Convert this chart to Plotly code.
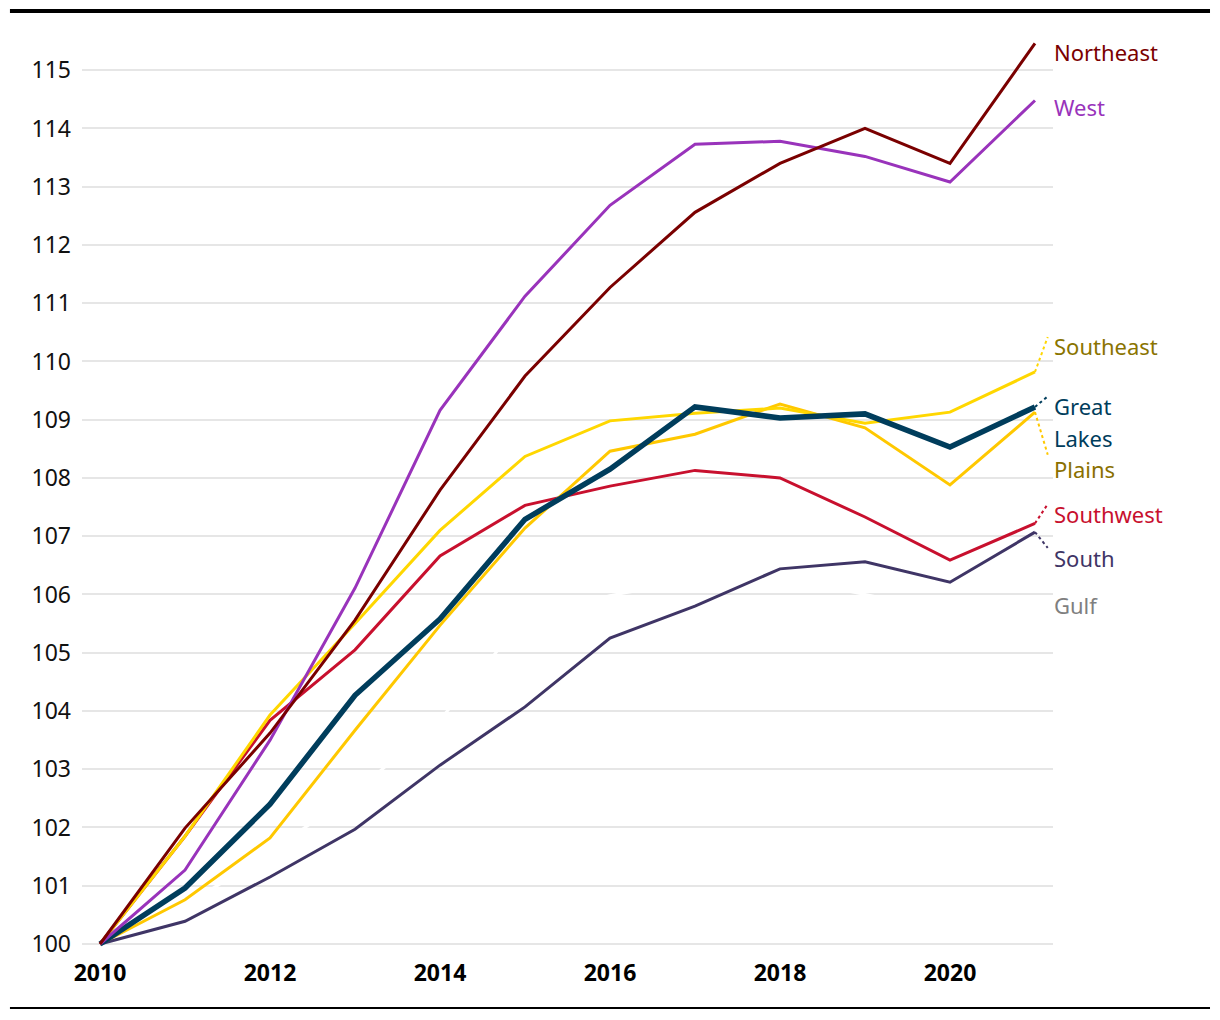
import plotly.graph_objects as go

years = list(range(2010, 2022))

northeast = [100, 101.99, 103.62, 105.56, 107.79, 109.75, 111.27, 112.56, 113.40, 114.00, 113.40, 115.46]
west = [100, 101.27, 103.50, 106.11, 109.16, 111.12, 112.68, 113.73, 113.78, 113.52, 113.08, 114.48]
southeast = [100, 101.85, 103.93, 105.50, 107.10, 108.37, 108.98, 109.11, 109.20, 108.94, 109.13, 109.82]
plains = [100, 100.76, 101.82, 103.67, 105.47, 107.14, 108.46, 108.75, 109.27, 108.86, 107.88, 109.13]
great_lakes = [100, 100.96, 102.40, 104.27, 105.58, 107.29, 108.15, 109.22, 109.03, 109.10, 108.53, 109.22]
southwest = [100, 101.85, 103.84, 105.05, 106.66, 107.53, 107.86, 108.13, 108.00, 107.33, 106.59, 107.22]
south = [100, 100.39, 101.15, 101.97, 103.07, 104.07, 105.25, 105.80, 106.44, 106.56, 106.21, 107.07]
gulf = [100, 100.65, 101.58, 102.60, 103.85, 105.60, 105.98, 106.25, 106.30, 106.00, 105.70, 105.90]

y_ticks = list(range(100, 116))
x_ticks = [2010, 2012, 2014, 2016, 2018, 2020]

FONT = "Noto Sans"

# name, values, line colour, label colour, width, label lines [(text, y)], leader end y (None = no leader)
series = [
    ("Gulf", gulf, "#ffffff", "#7f7f7f", 3, [("Gulf", 105.82)], None),
    ("South", south, "#3f3566", "#3f3566", 3, [("South", 106.62)], 106.80),
    ("Southwest", southwest, "#c8102e", "#c8102e", 3, [("Southwest", 107.38)], 107.55),
    ("Plains", plains, "#ffc800", "#8a7000", 3, [("Plains", 108.15)], 108.40),
    ("Southeast", southeast, "#ffd700", "#8a7400", 3, [("Southeast", 110.26)], 110.42),
    ("Great Lakes", great_lakes, "#003d5c", "#003d5c", 5.5,
     [("Great", 109.23), ("Lakes", 108.68)], 109.40),
    ("West", west, "#9933bb", "#9933bb", 3, [("West", 114.36)], None),
    ("Northeast", northeast, "#7a0000", "#7a0000", 3, [("Northeast", 115.32)], None),
]

fig = go.Figure()

for name, vals, col, lcol, w, labels, lend in series:
    fig.add_trace(go.Scatter(x=years, y=vals, mode="lines", name=name,
                             line=dict(color=col, width=w), showlegend=False,
                             cliponaxis=False, hoverinfo="x+y+name"))
    if lend is not None:
        fig.add_trace(go.Scatter(x=[years[-1], years[-1] + 0.15], y=[vals[-1], lend],
                                 mode="lines", line=dict(color=col, width=2, dash="3px,3px"),
                                 showlegend=False, cliponaxis=False, hoverinfo="skip"))
    for txt, ly in labels:
        fig.add_annotation(xref="paper", x=0.999, y=ly, text=txt, showarrow=False,
                           xanchor="left", yanchor="middle", align="left",
                           font=dict(family=FONT, size=22, color=lcol))

fig.update_layout(
    width=1212, height=1012,
    margin=dict(l=74, r=167, t=22, b=70),
    paper_bgcolor="white", plot_bgcolor="white",
    font=dict(family=FONT, size=22, color="#111111"),
    xaxis=dict(range=[2009.788, 2021.212], tickvals=x_ticks,
               ticktext=[f"<b>{t}</b>" for t in x_ticks],
               showgrid=False, zeroline=False, showline=False, ticks="",
               ticklabelstandoff=7,
               tickfont=dict(family=FONT, size=23, color="#000000")),
    yaxis=dict(range=[99.897, 115.69], tickvals=y_ticks,
               showgrid=True, gridcolor="#e6e6e6", gridwidth=2,
               zeroline=False, showline=False, ticks="", ticklabelstandoff=10,
               tickfont=dict(family=FONT, size=23, color="#111111")),
    shapes=[
        dict(type="line", xref="paper", yref="paper", x0=-0.0742, x1=1.1617,
             y0=1.0207, y1=1.0207, line=dict(color="#000000", width=4)),
        dict(type="line", xref="paper", yref="paper", x0=-0.0742, x1=1.1617,
             y0=-0.063, y1=-0.063, line=dict(color="#000000", width=2)),
    ],
)

fig.write_html("out.html")
